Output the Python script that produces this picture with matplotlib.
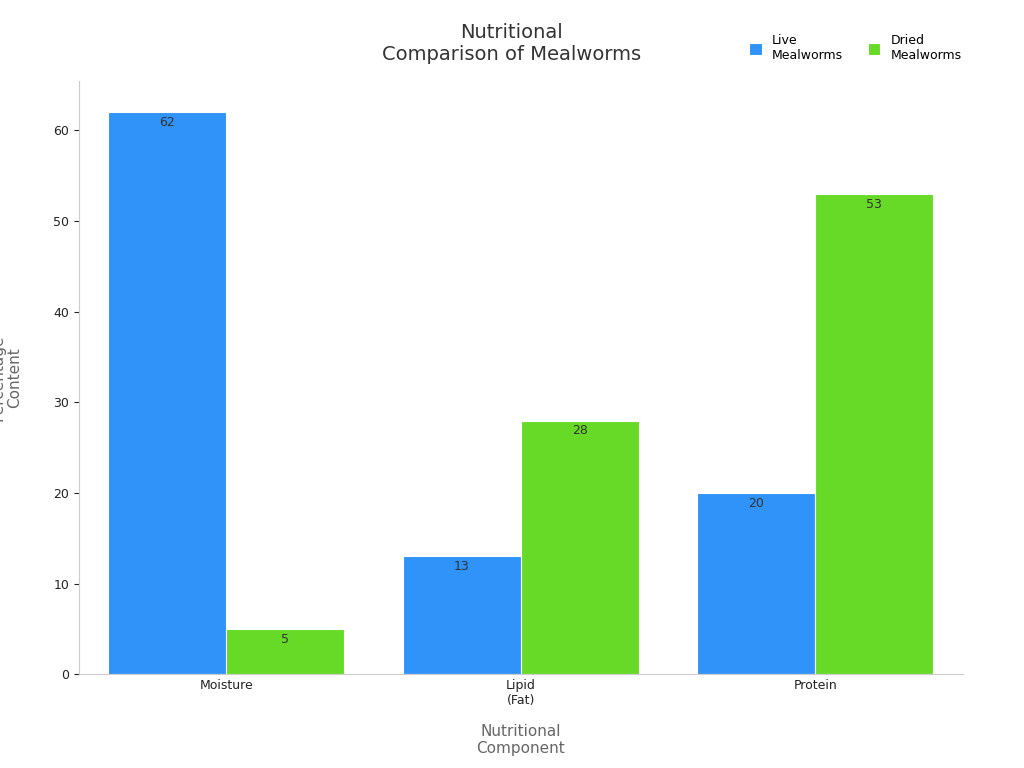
import numpy as np
import matplotlib.pyplot as plt

categories = ["Moisture", "Lipid\n(Fat)", "Protein"]
live = [62, 13, 20]
dried = [5, 28, 53]

fig, ax = plt.subplots(figsize=(10.24, 7.68), dpi=100)
fig.subplots_adjust(left=0.077, right=0.94, top=0.895, bottom=0.122)

x = np.arange(len(categories))
w = 0.4
b1 = ax.bar(x - w / 2, live, w, color="#2f93fa", edgecolor="white", linewidth=0.8, label="Live\nMealworms")
b2 = ax.bar(x + w / 2, dried, w, color="#66da26", edgecolor="white", linewidth=0.8, label="Dried\nMealworms")
for bars in (b1, b2):
    for r in bars:
        ax.text(r.get_x() + r.get_width() / 2, r.get_height() - 0.4, f"{r.get_height():g}",
                ha="center", va="top", fontsize=9, color="#333333")

ax.set_xticks(x)
ax.set_xticklabels(categories, fontsize=9, color="#222222")
ax.set_ylim(0, 65.5)
ax.set_xlim(-0.5, 2.5)
ax.tick_params(axis="y", labelsize=9, colors="#222222")
ax.tick_params(axis="x", length=0)
for s in ("top", "right"):
    ax.spines[s].set_visible(False)
ax.spines["left"].set_color("#cccccc")
ax.spines["bottom"].set_color("#cccccc")
ax.set_xlabel("Nutritional\nComponent", fontsize=11, color="#666666", labelpad=12)
ax.set_ylabel("Percentage\nContent", fontsize=11, color="#666666", labelpad=22)
fig.suptitle("Nutritional\nComparison of Mealworms", x=0.5, y=0.97, fontsize=14, color="#333333")
fig.legend(loc="upper right", bbox_to_anchor=(0.95, 0.97), ncol=2, frameon=False, fontsize=9,
           handlelength=1, handleheight=1)

plt.savefig("out.png")
